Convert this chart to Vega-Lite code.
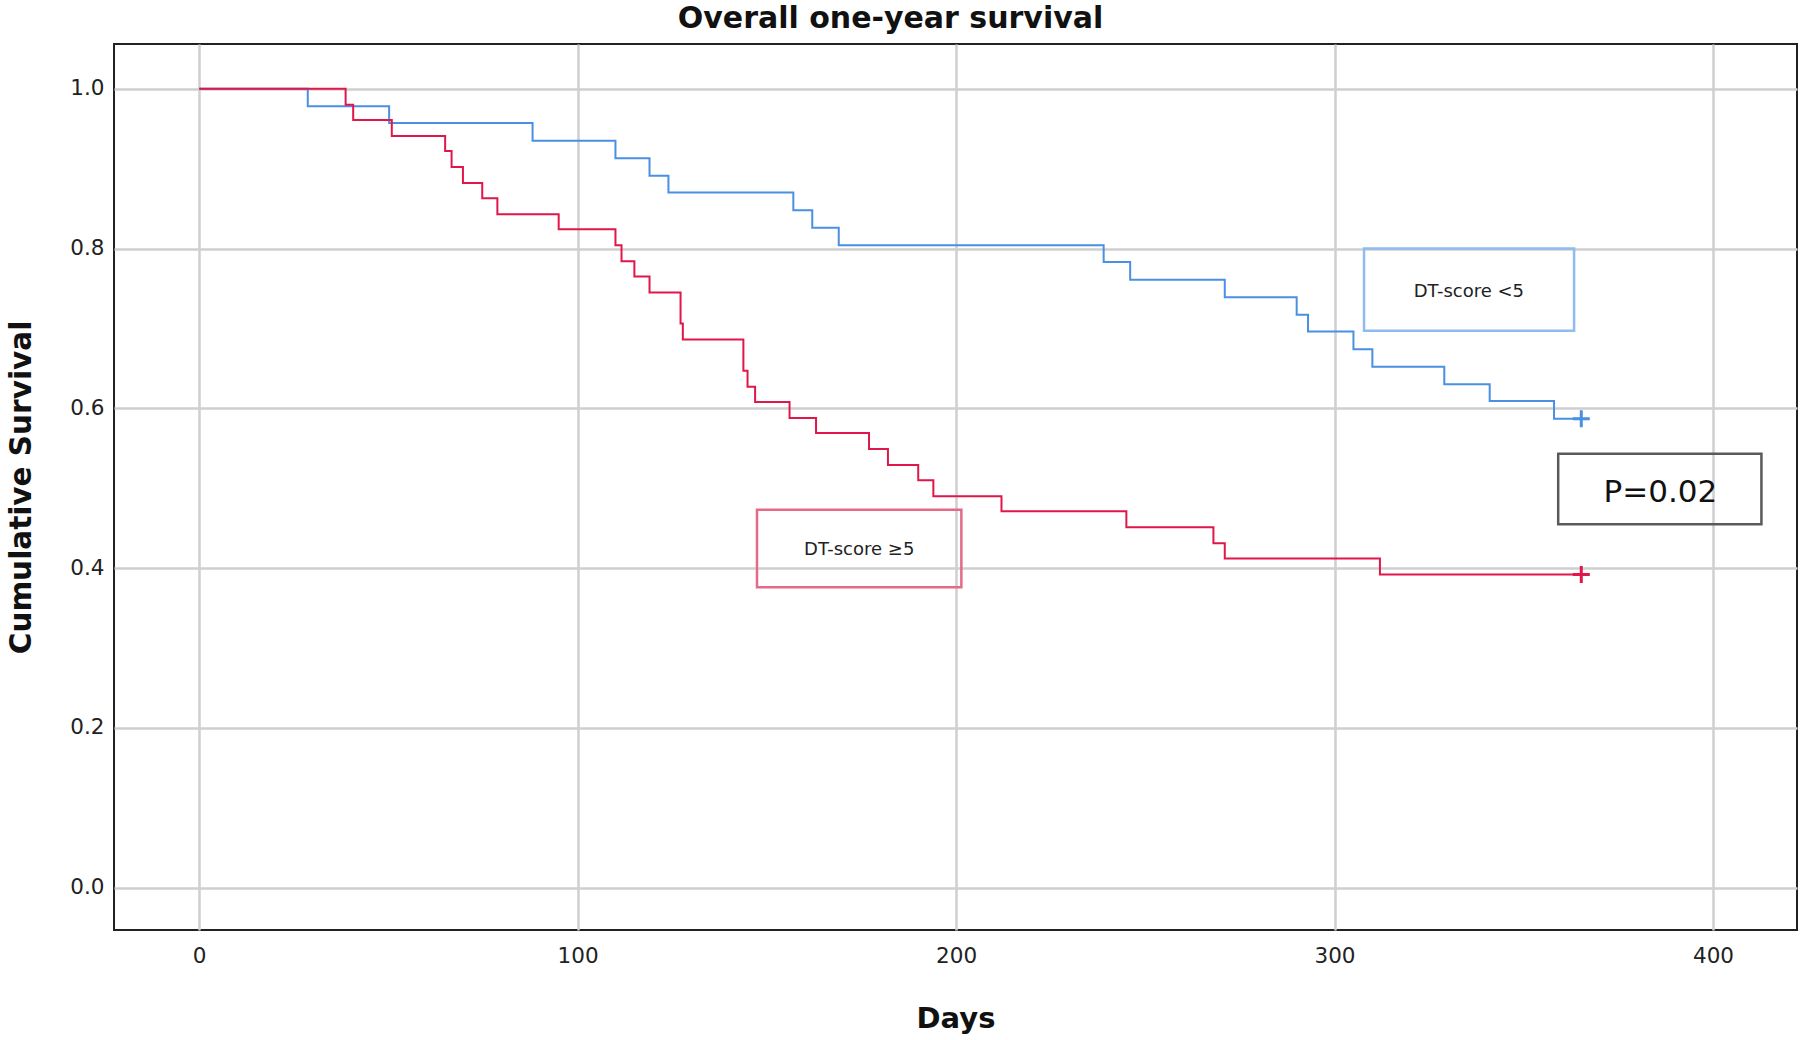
{
  "$schema": "https://vega.github.io/schema/vega-lite/v6.json",
  "width": 1683,
  "height": 886,
  "autosize": {"type": "none"},
  "padding": {"left": 114, "top": 44, "right": 3, "bottom": 110},
  "background": "white",
  "config": {
    "font": "DejaVu Sans",
    "view": {"stroke": "#222222", "strokeWidth": 2}
  },
  "title": {
    "text": "Overall one-year survival",
    "fontSize": 30,
    "fontWeight": "bold",
    "color": "#111111",
    "anchor": "middle",
    "dx": -65,
    "offset": 10
  },
  "datasets": {
    "km": [
      {"group": "DT-score <5", "day": 0, "surv": 1.0},
      {"group": "DT-score <5", "day": 28.7, "surv": 0.978},
      {"group": "DT-score <5", "day": 50.2, "surv": 0.957},
      {"group": "DT-score <5", "day": 88.1, "surv": 0.935},
      {"group": "DT-score <5", "day": 110, "surv": 0.913},
      {"group": "DT-score <5", "day": 119, "surv": 0.891},
      {"group": "DT-score <5", "day": 124, "surv": 0.870},
      {"group": "DT-score <5", "day": 157, "surv": 0.848},
      {"group": "DT-score <5", "day": 162, "surv": 0.826},
      {"group": "DT-score <5", "day": 169, "surv": 0.804},
      {"group": "DT-score <5", "day": 239, "surv": 0.783},
      {"group": "DT-score <5", "day": 246, "surv": 0.761},
      {"group": "DT-score <5", "day": 271, "surv": 0.739},
      {"group": "DT-score <5", "day": 290, "surv": 0.717},
      {"group": "DT-score <5", "day": 293, "surv": 0.696},
      {"group": "DT-score <5", "day": 305, "surv": 0.674},
      {"group": "DT-score <5", "day": 310, "surv": 0.652},
      {"group": "DT-score <5", "day": 329, "surv": 0.630},
      {"group": "DT-score <5", "day": 341, "surv": 0.609},
      {"group": "DT-score <5", "day": 358, "surv": 0.587},
      {"group": "DT-score <5", "day": 365, "surv": 0.587},
      {"group": "DT-score ≥5", "day": 0, "surv": 1.0},
      {"group": "DT-score ≥5", "day": 38.7, "surv": 0.980},
      {"group": "DT-score ≥5", "day": 40.7, "surv": 0.961},
      {"group": "DT-score ≥5", "day": 50.9, "surv": 0.941},
      {"group": "DT-score ≥5", "day": 65, "surv": 0.922},
      {"group": "DT-score ≥5", "day": 66.7, "surv": 0.902},
      {"group": "DT-score ≥5", "day": 69.7, "surv": 0.882},
      {"group": "DT-score ≥5", "day": 74.8, "surv": 0.863},
      {"group": "DT-score ≥5", "day": 78.8, "surv": 0.843},
      {"group": "DT-score ≥5", "day": 95, "surv": 0.824},
      {"group": "DT-score ≥5", "day": 110, "surv": 0.804},
      {"group": "DT-score ≥5", "day": 111.6, "surv": 0.784},
      {"group": "DT-score ≥5", "day": 115, "surv": 0.765},
      {"group": "DT-score ≥5", "day": 119, "surv": 0.745},
      {"group": "DT-score ≥5", "day": 127.2, "surv": 0.706},
      {"group": "DT-score ≥5", "day": 127.8, "surv": 0.686},
      {"group": "DT-score ≥5", "day": 143.8, "surv": 0.647},
      {"group": "DT-score ≥5", "day": 144.9, "surv": 0.627},
      {"group": "DT-score ≥5", "day": 146.9, "surv": 0.608},
      {"group": "DT-score ≥5", "day": 156, "surv": 0.588},
      {"group": "DT-score ≥5", "day": 163, "surv": 0.569},
      {"group": "DT-score ≥5", "day": 177, "surv": 0.549},
      {"group": "DT-score ≥5", "day": 182, "surv": 0.529},
      {"group": "DT-score ≥5", "day": 190, "surv": 0.510},
      {"group": "DT-score ≥5", "day": 194, "surv": 0.490},
      {"group": "DT-score ≥5", "day": 212, "surv": 0.471},
      {"group": "DT-score ≥5", "day": 245, "surv": 0.451},
      {"group": "DT-score ≥5", "day": 268, "surv": 0.431},
      {"group": "DT-score ≥5", "day": 271, "surv": 0.412},
      {"group": "DT-score ≥5", "day": 312, "surv": 0.392},
      {"group": "DT-score ≥5", "day": 365, "surv": 0.392}
    ],
    "censor": [
      {"group": "DT-score <5", "day": 365.2, "surv": 0.587},
      {"group": "DT-score ≥5", "day": 365.2, "surv": 0.392}
    ],
    "notes": [
      {"label": "DT-score <5", "x1": 307.8, "x2": 363.3, "y1": 0.697, "y2": 0.800, "tx": 335.5, "ty": 0.745, "kind": "small"},
      {"label": "DT-score ≥5", "x1": 147.4, "x2": 201.4, "y1": 0.376, "y2": 0.473, "tx": 174.4, "ty": 0.423, "kind": "small"},
      {"label": "P=0.02", "x1": 359.1, "x2": 412.8, "y1": 0.455, "y2": 0.543, "tx": 386.1, "ty": 0.494, "kind": "big"}
    ]
  },
  "layer": [
    {
      "data": {"name": "km"},
      "mark": {"type": "line", "interpolate": "step-after", "strokeWidth": 2},
      "encoding": {
        "x": {
          "field": "day", "type": "quantitative",
          "scale": {"domain": [-22.5, 422.2], "nice": false, "zero": false},
          "axis": {
            "values": [0, 100, 200, 300, 400],
            "title": "Days",
            "grid": true, "gridColor": "#cfcfcf", "gridWidth": 2.5,
            "ticks": false, "domain": false,
            "labelFontSize": 21.5, "labelColor": "#222222", "labelPadding": 15,
            "titleFontSize": 29, "titleFontWeight": "bold", "titleColor": "#111111", "titlePadding": 38
          }
        },
        "y": {
          "field": "surv", "type": "quantitative",
          "scale": {"domain": [-0.053, 1.056], "nice": false, "zero": false},
          "axis": {
            "values": [0, 0.2, 0.4, 0.6, 0.8, 1.0],
            "format": ".1f",
            "title": "Cumulative Survival",
            "grid": true, "gridColor": "#cfcfcf", "gridWidth": 2.5,
            "ticks": false, "domain": false,
            "labelFontSize": 21.5, "labelColor": "#222222", "labelPadding": 10,
            "titleFontSize": 29.5, "titleFontWeight": "bold", "titleColor": "#111111", "titlePadding": 33
          }
        },
        "color": {
          "field": "group", "type": "nominal",
          "scale": {"domain": ["DT-score <5", "DT-score ≥5"], "range": ["#4a90e2", "#e0174a"]},
          "legend": null
        }
      }
    },
    {
      "data": {"name": "censor"},
      "mark": {"type": "point", "shape": "M-1,0L1,0M0,-1L0,1", "filled": false, "strokeWidth": 3, "size": 290, "opacity": 1},
      "encoding": {
        "x": {"field": "day", "type": "quantitative"},
        "y": {"field": "surv", "type": "quantitative"},
        "color": {"field": "group", "type": "nominal", "legend": null}
      }
    },
    {
      "data": {"name": "notes"},
      "mark": {"type": "rect", "fill": null, "fillOpacity": 0, "strokeWidth": 2.5},
      "encoding": {
        "x": {"field": "x1", "type": "quantitative"},
        "x2": {"field": "x2"},
        "y": {"field": "y1", "type": "quantitative"},
        "y2": {"field": "y2"},
        "stroke": {
          "field": "label", "type": "nominal",
          "scale": {"domain": ["DT-score <5", "DT-score ≥5", "P=0.02"], "range": ["#8fbbf0", "#e46a88", "#5a5a5a"]},
          "legend": null
        }
      }
    },
    {
      "data": {"name": "notes"},
      "transform": [{"filter": "datum.kind === 'small'"}],
      "mark": {"type": "text", "fontSize": 18, "color": "#222222", "align": "center", "baseline": "middle"},
      "encoding": {
        "x": {"field": "tx", "type": "quantitative"},
        "y": {"field": "ty", "type": "quantitative"},
        "text": {"field": "label"}
      }
    },
    {
      "data": {"name": "notes"},
      "transform": [{"filter": "datum.kind === 'big'"}],
      "mark": {"type": "text", "fontSize": 31, "color": "#111111", "align": "center", "baseline": "middle"},
      "encoding": {
        "x": {"field": "tx", "type": "quantitative"},
        "y": {"field": "ty", "type": "quantitative"},
        "text": {"field": "label"}
      }
    }
  ]
}
